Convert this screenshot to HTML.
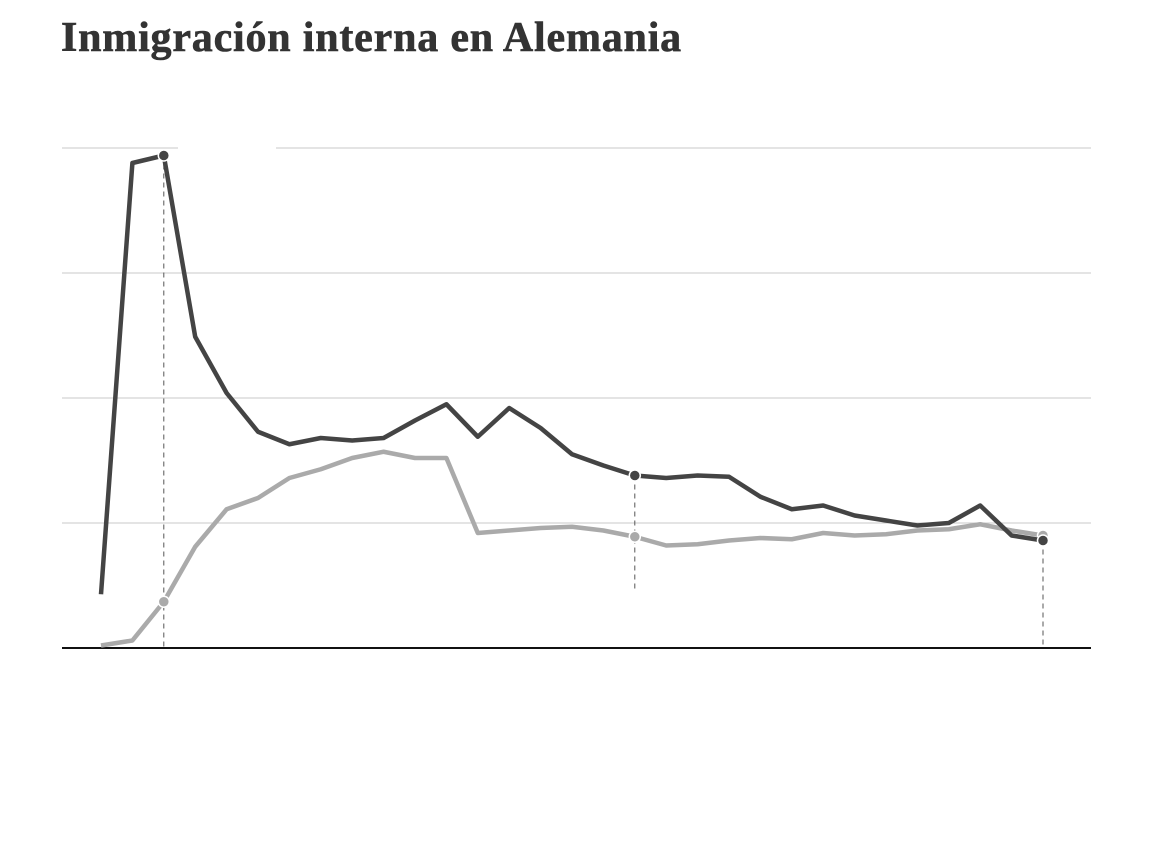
<!DOCTYPE html>
<html><head><meta charset="utf-8"><style>
body{margin:0;background:#fff;width:1156px;height:860px;overflow:hidden;font-family:"Liberation Serif",serif}
h1{position:absolute;left:61px;top:14px;margin:0;font-size:42px;font-weight:bold;color:#333;letter-spacing:0.8px;-webkit-text-stroke:0.6px #333}
</style></head><body>
<h1>Inmigración interna en Alemania</h1>
<svg id="c" width="1156" height="860" style="position:absolute;left:0;top:0"></svg>
<script>
const darkSeries=[43,388,394,249,204,173,163,168,166,168,182,195,169,192,176,155,146,138,136,138,137,121,111,114,106,102,98,100,114,90,86];
const lightSeries=[2,6,37,81,111,120,136,143,152,157,152,152,92,94,96,97,94,89,82,83,86,88,87,92,90,91,94,95,99,94,90];
const gridValues=[100,200,300,400];
const markerIdx=[2,17,30];
const NS='http://www.w3.org/2000/svg';
const svg=document.getElementById('c');
const x=i=>101+i*31.4;
const y=v=>648-v*1.25;
function mk(t,a){const e=document.createElementNS(NS,t);for(const k in a)e.setAttribute(k,a[k]);svg.appendChild(e);return e;}
gridValues.forEach(g=>{
  if(g===400){
    let l=mk('line',{x1:62,x2:178,y1:y(g),y2:y(g),stroke:'#c8c8c8','stroke-width':1});
    
    
    l=mk('line',{x1:276,x2:1091,y1:y(g),y2:y(g),stroke:'#c8c8c8','stroke-width':1});
    
    
  }else{
    const l=mk('line',{x1:62,x2:1091,y1:y(g),y2:y(g),stroke:'#c8c8c8','stroke-width':1});
    
    
  }
});
[[2,darkSeries[2],0],[17,darkSeries[17],45],[30,darkSeries[30],0]].forEach(d=>{
  const l=mk('line',{x1:x(d[0]),x2:x(d[0]),y1:y(d[1]),y2:y(d[2]),stroke:'#555','stroke-width':1,'stroke-dasharray':'5,4'});
  
  
});
const base=mk('line',{x1:62,x2:1091,y1:648,y2:648,stroke:'#111','stroke-width':2});


[[lightSeries,'#aaa','light-series'],[darkSeries,'#444','dark-series']].forEach(s=>{
  const p=mk('polyline',{points:s[0].map((v,i)=>x(i)+','+y(v)).join(' '),fill:'none',stroke:s[1],'stroke-width':4.5,'stroke-linejoin':'round'});
  
  
  markerIdx.forEach(i=>{
    const c=mk('circle',{cx:x(i),cy:y(s[0][i]),r:5.5,fill:s[1],stroke:'#fff','stroke-width':1.5});
    
    
  });
});
</script>
</body></html>
